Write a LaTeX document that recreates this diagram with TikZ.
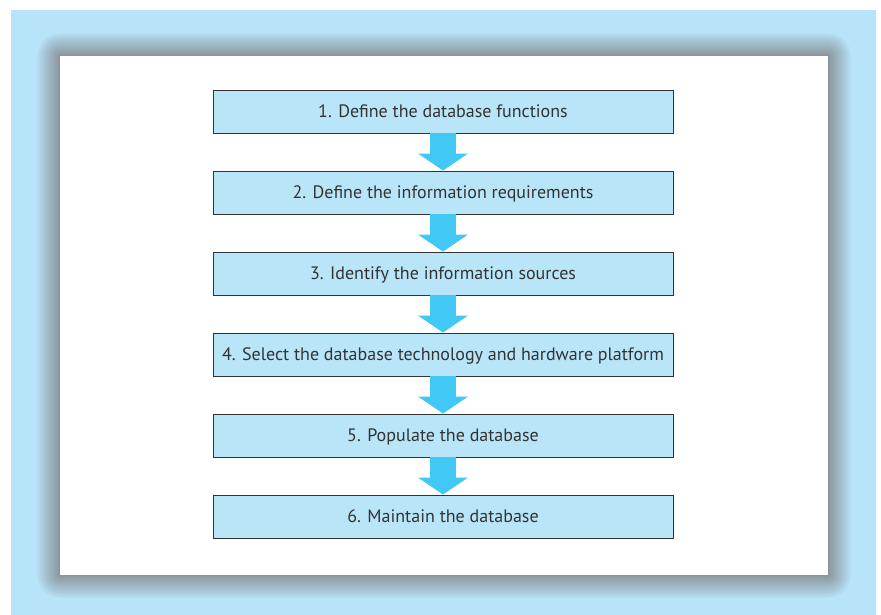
\documentclass[tikz,border=0pt]{standalone}
\usepackage{fontspec}
\setmainfont{PT Sans}
\usetikzlibrary{arrows.meta}
\definecolor{pagebg}{RGB}{183,228,248}
\definecolor{boxfill}{RGB}{185,229,248}
\definecolor{arrowblue}{RGB}{66,200,244}
\definecolor{shadowcol}{RGB}{133,134,139}
\definecolor{textcol}{RGB}{51,51,51}
\tikzset{
  stepbox/.style={draw=textcol,line width=0.9pt,fill=boxfill,minimum width=460pt,minimum height=43pt,inner sep=0pt,
    font=\fontsize{18}{20}\selectfont,text height=12.6pt,text depth=0pt,text=textcol},
  flowarrow/.style={arrowblue,line width=26pt,-{Triangle[width=50pt,length=17pt,line width=0pt]}}
}

\begin{document}
\begin{tikzpicture}[x=1pt,y=-1pt]
            \useasboundingbox (0,0) rectangle (881,615);
            \fill[pagebg] (11,10) rectangle (876,615);
            % soft shadow round the panel
            \foreach \i [evaluate=\i as \d using \i*\i/16] in {1,...,19}
              \fill[shadowcol,opacity=0.09,rounded corners=\d pt] ({60-\d},{56-\d}) rectangle ({828+\d},{575+\d});
            \fill[white] (60,56) rectangle (828,575);

            \node[stepbox] (f1) at (443,111.5) {1. Define the database functions};
            \node[stepbox] (f2) at (443,192.5) {2. Define the information requirements};
            \node[stepbox] (f3) at (443,273.5) {3. Identify the information sources};
            \node[stepbox] (f4) at (443,354.5) {4. Select the database technology and hardware platform};
            \node[stepbox] (f5) at (443,435.5) {5. Populate the database};
            \node[stepbox] (f6) at (443,516.5) {6. Maintain the database};

            \draw[flowarrow] (f1.south) -- (f2.north);
            \draw[flowarrow] (f2.south) -- (f3.north);
            \draw[flowarrow] (f3.south) -- (f4.north);
            \draw[flowarrow] (f4.south) -- (f5.north);
            \draw[flowarrow] (f5.south) -- (f6.north);
        \end{tikzpicture}
\end{document}
